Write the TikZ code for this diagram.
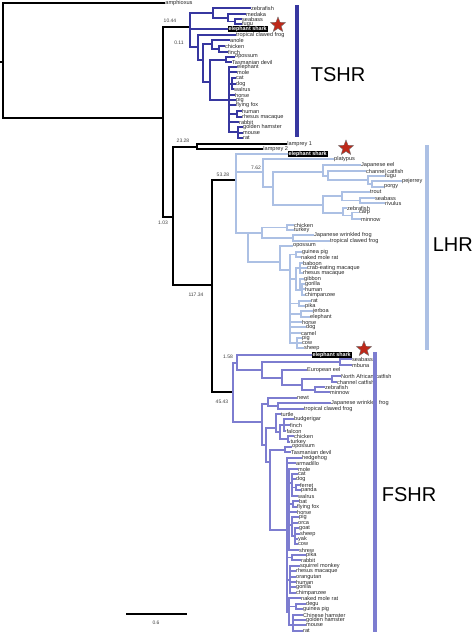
\documentclass[tikz,border=0pt]{standalone}
\usepackage{fontspec}
\setmainfont{Liberation Sans}
\usetikzlibrary{shapes.geometric}
\definecolor{tsc}{RGB}{55,55,160}
\definecolor{lhc}{RGB}{172,192,228}
\definecolor{fsc}{RGB}{125,125,208}
\definecolor{starred}{RGB}{190,40,25}
\newcount\nn
\newcommand\lf[5]{\global\advance\nn by 1\relax
  \draw[#1] (#2,#3) -- (#4,#3) node[leaf] (n\the\nn) {#5};}
\newcommand\vb[4]{\draw[#1] (#2,#3) -- (#2,#4);}
\newcommand\hb[4]{\draw[#1] (#2,#3) -- (#4,#3);}
\begin{document}
\begin{tikzpicture}[x=1pt,y=-1pt,
  blk/.style={line width=1.8pt,black,line cap=rect},
  ts/.style={line width=1.3pt,tsc,line cap=rect},
  lh/.style={line width=1.3pt,lhc,line cap=rect},
  fs/.style={line width=1.3pt,fsc,line cap=rect},
  leaf/.style={font=\fontsize{5.6}{6}\selectfont,inner sep=0.5pt,anchor=west,text=black!85},
  blab/.style={font=\fontsize{5}{6}\selectfont,inner sep=0pt,text=black!75},
  sharkbox/.style={fill=black,text=white,font=\bfseries\fontsize{5.4}{6}\selectfont,inner sep=0.9pt,anchor=west},
  redstar/.style={shape=star,star points=5,star point ratio=2.3,fill=starred,draw=black!55,line width=0.4pt,minimum size=16pt,inner sep=0pt},
  bar/.style={line width=3.5pt},
  big/.style={font=\fontsize{20}{22}\selectfont,inner sep=0pt}]
\useasboundingbox (0,0) rectangle (474,635);

% ---------------- black backbone ----------------
\hb{blk}{0}{62}{3}
\vb{blk}{3}{3}{118}
\lf{blk}{3}{3}{164}{amphioxus}
\hb{blk}{3}{118}{163}
\vb{blk}{163}{27}{217}
\hb{blk}{163}{27}{190}
\node[blab] (b1) at (170,21) {10.44};
\hb{blk}{163}{217}{173}
\node[blab] (b2) at (163,223) {1.03};
\vb{blk}{173}{147}{285}
\hb{blk}{173}{147}{197}
\node[blab] (b3) at (183,141) {23.28};
\vb{blk}{197}{144}{149}
\lf{blk}{197}{144}{286}{lamprey 1}
\lf{blk}{197}{149}{262}{lamprey 2}
\hb{blk}{173}{285}{212}
\node[blab] (b4) at (196,295) {117.34};
\vb{blk}{212}{180}{392}
\hb{blk}{212}{180}{236}
\node[blab] (b5) at (223,175) {53.28};
\hb{blk}{212}{392}{233}
\node[blab] (b6) at (222,402) {45.43};

% ---------------- TSHR ----------------
\vb{ts}{190}{13}{47}
\hb{ts}{190}{13}{213}
\vb{ts}{213}{8}{18}
\lf{ts}{213}{8}{250}{zebrafish}
\hb{ts}{213}{18}{228}
\vb{ts}{228}{14}{21.5}
\lf{ts}{228}{14}{245}{medaka}
\hb{ts}{228}{21.5}{235}
\vb{ts}{235}{19}{24}
\lf{ts}{235}{19}{241}{seabass}
\lf{ts}{235}{24}{241}{fugu}
\hb{ts}{190}{29}{227}
\node[sharkbox] (s1) at (227.5,29) {elephant shark};
\node[redstar] (st1) at (278,25) {};
\hb{ts}{190}{47}{198}
\node[blab] (b7) at (179,43) {0.11};
\vb{ts}{198}{35}{60}
\lf{ts}{198}{35}{235}{tropical clawed frog}
\hb{ts}{198}{60}{203}
\vb{ts}{203}{44}{82}
\hb{ts}{203}{44}{212}
\vb{ts}{212}{40}{49}
\lf{ts}{212}{40}{229}{anole}
\hb{ts}{212}{49}{219}
\vb{ts}{219}{46}{52}
\lf{ts}{219}{46}{224}{chicken}
\lf{ts}{219}{52}{227}{finch}
\hb{ts}{203}{82}{210}
\vb{ts}{210}{60}{100}
\hb{ts}{210}{60}{226}
\vb{ts}{226}{57}{62}
\lf{ts}{226}{57}{234}{opossum}
\lf{ts}{226}{62}{231}{Tasmanian devil}
\hb{ts}{210}{100}{229}
\vb{ts}{229}{67}{132}
\lf{ts}{229}{67}{236}{elephant}
\lf{ts}{229}{72}{236}{mole}
\hb{ts}{229}{84}{232}
\vb{ts}{232}{78}{89}
\lf{ts}{232}{78}{235}{cat}
\lf{ts}{232}{84}{235}{dog}
\lf{ts}{232}{89}{233}{walrus}
\lf{ts}{229}{95}{234}{horse}
\lf{ts}{229}{100}{235}{pig}
\lf{ts}{229}{105}{235}{flying fox}
\hb{ts}{229}{114}{237}
\vb{ts}{237}{111}{117}
\lf{ts}{237}{111}{241}{human}
\lf{ts}{237}{117}{241}{rhesus macaque}
\lf{ts}{229}{122}{238}{rabbit}
\hb{ts}{229}{132}{238}
\vb{ts}{238}{127}{138}
\lf{ts}{238}{127}{242}{golden hamster}
\lf{ts}{238}{133}{242}{mouse}
\lf{ts}{238}{138}{242}{rat}
\draw[bar,tsc] (297,5) -- (297,137);
\node[big] (tshr) at (338,75) {TSHR};

% ---------------- LHR ----------------
\vb{lh}{236}{154}{233}
\hb{lh}{236}{154}{287}
\node[sharkbox] (s2) at (287.5,154) {elephant shark};
\node[redstar] (st2) at (346,148) {};
\hb{lh}{236}{172}{263}
\node[blab] (b8) at (256,168) {7.62};
\vb{lh}{263}{159}{187}
\lf{lh}{263}{159}{333}{platypus}
\hb{lh}{263}{187}{273}
\vb{lh}{273}{172}{205}
\hb{lh}{273}{172}{323}
\vb{lh}{323}{165}{176}
\lf{lh}{323}{165}{360}{Japanese eel}
\hb{lh}{323}{176}{328}
\vb{lh}{328}{171}{180}
\lf{lh}{328}{171}{365}{channel catfish}
\hb{lh}{328}{180}{368}
\vb{lh}{368}{176}{184}
\lf{lh}{368}{176}{384}{fugu}
\hb{lh}{368}{184}{372}
\vb{lh}{372}{181}{187}
\lf{lh}{372}{181}{401}{pejerrey}
\lf{lh}{372}{187}{383}{porgy}
\hb{lh}{273}{205}{323}
\vb{lh}{323}{196}{213}
\hb{lh}{323}{196}{342}
\vb{lh}{342}{192}{200.5}
\lf{lh}{342}{192}{369}{trout}
\hb{lh}{342}{200.5}{360}
\vb{lh}{360}{198}{203}
\lf{lh}{360}{198}{374}{seabass}
\lf{lh}{360}{203}{384}{rivulus}
\hb{lh}{323}{213}{343}
\vb{lh}{343}{208}{215.5}
\lf{lh}{343}{208}{346}{zebrafish}
\hb{lh}{343}{215.5}{352}
\vb{lh}{352}{212.5}{219}
\lf{lh}{352}{212.5}{358}{carp}
\lf{lh}{352}{219}{360}{minnow}
\hb{lh}{236}{233}{248}
\vb{lh}{248}{233}{262}
\hb{lh}{248}{233}{262}
\vb{lh}{262}{227.5}{238}
\hb{lh}{262}{227.5}{287}
\vb{lh}{287}{225}{230}
\lf{lh}{287}{225}{293}{chicken}
\lf{lh}{287}{230}{293}{turkey}
\hb{lh}{262}{238}{293}
\vb{lh}{293}{235}{241}
\lf{lh}{293}{235}{313}{Japanese wrinkled frog}
\lf{lh}{293}{241}{329}{tropical clawed frog}
\hb{lh}{248}{262}{280}
\vb{lh}{280}{246}{270}
\lf{lh}{280}{246}{292}{opossum}
\hb{lh}{280}{270}{290}
\vb{lh}{290}{254.5}{343}
\hb{lh}{290}{254.5}{296}
\vb{lh}{296}{252}{257}
\lf{lh}{296}{252}{301}{guinea pig}
\lf{lh}{296}{257}{300}{naked mole rat}
\hb{lh}{290}{279}{296}
\vb{lh}{296}{268}{290}
\hb{lh}{296}{268}{300}
\vb{lh}{300}{263}{273}
\lf{lh}{300}{263}{302}{baboon}
\lf{lh}{300}{268}{306}{crab-eating macaque}
\lf{lh}{300}{273}{302}{rhesus macaque}
\hb{lh}{296}{290}{300}
\vb{lh}{300}{279}{290}
\lf{lh}{300}{279}{303}{gibbon}
\hb{lh}{300}{290}{302}
\vb{lh}{302}{284}{295}
\lf{lh}{302}{284}{304}{gorilla}
\lf{lh}{302}{289}{304}{human}
\lf{lh}{302}{295}{304}{chimpanzee}
\hb{lh}{290}{303.5}{299}
\vb{lh}{299}{301}{306}
\lf{lh}{299}{301}{310}{rat}
\lf{lh}{299}{306}{304}{pika}
\hb{lh}{290}{314}{301}
\vb{lh}{301}{311}{317}
\lf{lh}{301}{311}{312}{jerboa}
\lf{lh}{301}{317}{309}{elephant}
\lf{lh}{290}{322}{301}{horse}
\lf{lh}{290}{327}{305}{dog}
\lf{lh}{290}{333}{300}{camel}
\hb{lh}{290}{343}{297}
\vb{lh}{297}{338}{348}
\lf{lh}{297}{338}{301}{pig}
\lf{lh}{297}{343}{301}{cow}
\lf{lh}{297}{348}{303}{sheep}
\draw[bar,lhc] (427,145) -- (427,350);
\node[big,anchor=east] (lhr) at (473,245) {LHR};

% ---------------- FSHR ----------------
\vb{fs}{233}{363}{422}
\hb{fs}{233}{363}{237}
\node[blab] (b9) at (228,357) {1.58};
\vb{fs}{237}{355}{370}
\hb{fs}{237}{355}{311}
\node[sharkbox] (s3) at (311.5,355) {elephant shark};
\node[redstar] (st3) at (364,349) {};
\hb{fs}{237}{370}{262}
\vb{fs}{262}{362}{378}
\hb{fs}{262}{362}{340}
\vb{fs}{340}{359}{365}
\lf{fs}{340}{359}{351}{seabass}
\lf{fs}{340}{365}{351}{mbuna}
\hb{fs}{262}{378}{282}
\vb{fs}{282}{370}{385}
\lf{fs}{282}{370}{306}{European eel}
\hb{fs}{282}{385}{302}
\vb{fs}{302}{379}{390}
\hb{fs}{302}{379}{332}
\vb{fs}{332}{376}{382}
\lf{fs}{332}{376}{340}{North African catfish}
\lf{fs}{332}{382}{336}{channel catfish}
\hb{fs}{302}{390}{315}
\vb{fs}{315}{387}{392}
\lf{fs}{315}{387}{324}{zebrafish}
\lf{fs}{315}{392}{329}{minnow}
\hb{fs}{233}{422}{262}
\vb{fs}{262}{404}{445}
\hb{fs}{262}{404}{268}
\vb{fs}{268}{398}{406}
\lf{fs}{268}{398}{296}{newt}
\hb{fs}{268}{406}{278}
\vb{fs}{278}{403}{409}
\lf{fs}{278}{403}{330}{Japanese wrinkled frog}
\lf{fs}{278}{409}{303}{tropical clawed frog}
\hb{fs}{262}{445}{266}
\vb{fs}{266}{428}{462}
\hb{fs}{266}{428}{276}
\vb{fs}{276}{414}{432}
\lf{fs}{276}{414}{280}{turtle}
\hb{fs}{276}{432}{280}
\vb{fs}{280}{425}{439}
\hb{fs}{280}{425}{284}
\vb{fs}{284}{419}{431}
\lf{fs}{284}{419}{293}{budgerigar}
\lf{fs}{284}{425}{289}{finch}
\lf{fs}{284}{431}{285.5}{falcon}
\hb{fs}{280}{439}{288}
\vb{fs}{288}{436}{442}
\lf{fs}{288}{436}{293}{chicken}
\lf{fs}{288}{442}{289.5}{turkey}
\hb{fs}{266}{462}{270}
\vb{fs}{270}{450}{530}
\hb{fs}{270}{450}{285}
\vb{fs}{285}{447}{452}
\lf{fs}{285}{447}{291}{opossum}
\lf{fs}{285}{452}{290}{Tasmanian devil}
\hb{fs}{270}{530}{287}
\vb{fs}{287}{458}{612}
\lf{fs}{287}{458}{301}{hedgehog}
\lf{fs}{287}{463}{295}{armadillo}
\hb{fs}{287}{505}{289}
\vb{fs}{289}{469}{550}
\lf{fs}{289}{469}{297}{mole}
\hb{fs}{289}{483}{292}
\vb{fs}{292}{474}{496}
\lf{fs}{292}{474}{297}{cat}
\lf{fs}{292}{479}{295}{dog}
\hb{fs}{292}{487.5}{296}
\vb{fs}{296}{485}{490}
\lf{fs}{296}{485}{299}{ferret}
\lf{fs}{296}{490}{300}{panda}
\lf{fs}{292}{496}{297}{walrus}
\hb{fs}{289}{504}{293}
\vb{fs}{293}{501}{507}
\lf{fs}{293}{501}{298}{bat}
\lf{fs}{293}{507}{296}{flying fox}
\lf{fs}{289}{512}{296}{horse}
\hb{fs}{289}{525}{292}
\vb{fs}{292}{517}{536}
\lf{fs}{292}{517}{298}{pig}
\lf{fs}{292}{523}{297}{orca}
\hb{fs}{292}{536}{295}
\vb{fs}{295}{528}{544}
\lf{fs}{295}{528}{298}{goat}
\lf{fs}{295}{534}{299}{sheep}
\lf{fs}{295}{539}{297}{yak}
\lf{fs}{295}{544}{297}{cow}
\lf{fs}{289}{550}{298}{shrew}
\hb{fs}{287}{557.5}{292}
\vb{fs}{292}{555}{560}
\lf{fs}{292}{555}{305}{pika}
\lf{fs}{292}{560}{300}{rabbit}
\hb{fs}{287}{580}{290}
\vb{fs}{290}{566}{593}
\lf{fs}{290}{566}{299}{squirrel monkey}
\lf{fs}{290}{571}{295}{rhesus macaque}
\lf{fs}{290}{577}{295}{orangutan}
\lf{fs}{290}{582}{295}{human}
\lf{fs}{290}{587}{295}{gorilla}
\lf{fs}{290}{593}{295}{chimpanzee}
\hb{fs}{287}{612}{289}
\vb{fs}{289}{598}{625}
\lf{fs}{289}{598}{300}{naked mole rat}
\hb{fs}{289}{606.5}{296}
\vb{fs}{296}{604}{609}
\lf{fs}{296}{604}{305}{degu}
\lf{fs}{296}{609}{302}{guinea pig}
\hb{fs}{289}{625}{293}
\vb{fs}{293}{615}{631}
\lf{fs}{293}{615}{302}{Chinese hamster}
\lf{fs}{293}{620}{305}{golden hamster}
\lf{fs}{293}{625}{305}{mouse}
\lf{fs}{293}{631}{302}{rat}
\draw[bar,fsc] (375,352) -- (375,632);
\node[big] (fshr) at (409,495) {FSHR};

% ---------------- scale bar ----------------
\coordinate (sb1) at (126,614);
\coordinate (sb2) at (187,614);
\draw[blk,line cap=butt] (sb1) -- (sb2);
\node[blab] (sbl) at (156,623) {0.6};
\end{tikzpicture}
\end{document}
